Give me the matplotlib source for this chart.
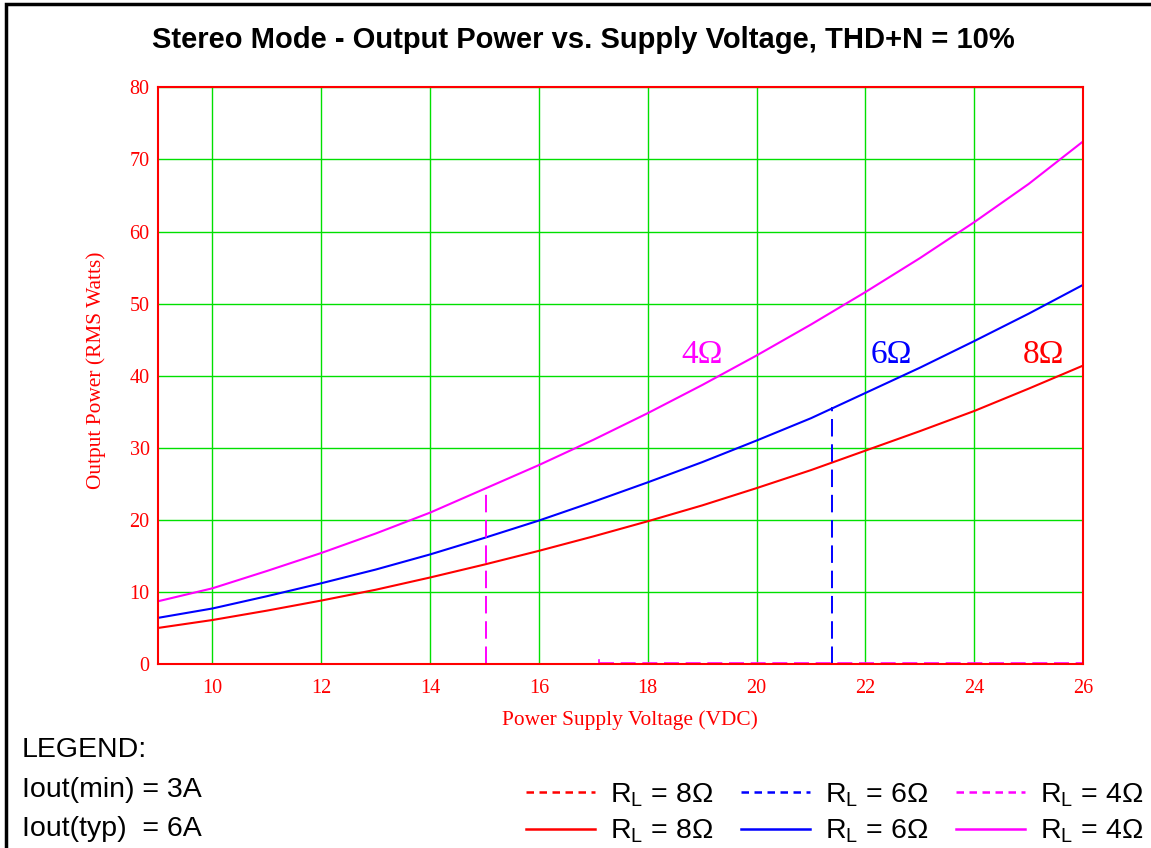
import matplotlib.pyplot as plt
from matplotlib.lines import Line2D
from matplotlib.patches import Rectangle

volts = [9, 10, 11, 12, 13, 14, 15, 16, 17, 18, 19, 20, 21, 22, 23, 24, 25, 26]
p_4ohm = [8.7, 10.5, 12.9, 15.4, 18.1, 21.0, 24.3, 27.6, 31.1, 34.8, 38.7, 42.8, 47.1, 51.6, 56.3, 61.3, 66.6, 72.5]
p_6ohm = [6.4, 7.7, 9.4, 11.2, 13.1, 15.2, 17.5, 19.9, 22.5, 25.2, 28.0, 31.0, 34.1, 37.6, 41.1, 44.8, 48.6, 52.6]
p_8ohm = [5.0, 6.1, 7.4, 8.8, 10.3, 12.0, 13.8, 15.7, 17.7, 19.8, 22.0, 24.4, 26.9, 29.6, 32.3, 35.1, 38.2, 41.4]

# current limit (Iout min) cut-off points
limit_4ohm = (15.02, 24.3)
limit_6ohm = (21.38, 35.6)
limit_zero = (17.1, 26.0)

xticks = [10, 12, 14, 16, 18, 20, 22, 24, 26]
yticks = [0, 10, 20, 30, 40, 50, 60, 70, 80]

plt.rcParams['mathtext.fontset'] = 'custom'
plt.rcParams['mathtext.rm'] = 'Liberation Sans'

RED = '#ff0000'
BLUE = '#0000ff'
MAG = '#ff00ff'
GRID = '#00e000'
serif = 'Liberation Serif'
sans = 'Liberation Sans'

fig = plt.figure(figsize=(11.51, 8.48), dpi=100)
ax = fig.add_axes([0.1373, 0.217, 0.8037, 0.680])

ax.plot(volts, p_8ohm, color=RED, lw=1.5)
ax.plot(volts, p_6ohm, color=BLUE, lw=1.5)
ax.plot(volts, p_4ohm, color=MAG, lw=1.5)

ax.plot([limit_4ohm[0]] * 2, [0, limit_4ohm[1]], color=MAG, lw=1.4, dashes=(9, 4))
ax.plot([limit_6ohm[0]] * 2, [0, limit_6ohm[1]], color=BLUE, lw=1.4, dashes=(9, 4))
ax.plot([limit_zero[0], limit_zero[1]], [0.12, 0.12], color=MAG, lw=1.2, dashes=(9, 4))
ax.plot([limit_zero[0], limit_zero[0]], [0, 0.5], color=MAG, lw=1.2)

ax.set_xlim(9, 26)
ax.set_ylim(0, 80)
ax.set_xticks(xticks)
ax.set_yticks(yticks)
ax.grid(True, color=GRID, lw=1.0)
ax.set_axisbelow(True)
for s in ax.spines.values():
    s.set_color(RED)
    s.set_linewidth(1.5)
ax.tick_params(length=0, colors=RED, labelsize=14.5)
ax.tick_params(axis='x', pad=11)
ax.tick_params(axis='y', pad=6)
for lab in ax.get_xticklabels() + ax.get_yticklabels():
    lab.set_family(serif)

ax.set_xlabel('Power Supply Voltage (VDC)', color=RED, family=serif, fontsize=15.4)
ax.set_ylabel('Output Power (RMS Watts)', color=RED, family=serif, fontsize=15.4)
ax.xaxis.set_label_coords(0.510, -0.080)
ax.yaxis.set_label_coords(-0.056, 0.51)

ax.text(19.0, 42.9, '4Ω', color=MAG, family=serif, fontsize=24, ha='center', va='center')
ax.text(22.48, 42.9, '6Ω', color=BLUE, family=serif, fontsize=24, ha='center', va='center')
ax.text(25.27, 42.9, '8Ω', color=RED, family=serif, fontsize=24, ha='center', va='center')

fig.text(0.507, 0.953, 'Stereo Mode - Output Power vs. Supply Voltage, THD+N = 10%',
         ha='center', va='center', fontsize=21, weight='bold', family=sans)

fig.text(0.019, 0.115, 'LEGEND:', fontsize=20.5, family=sans, va='center')
fig.text(0.019, 0.068, 'Iout(min) = 3A', fontsize=20.5, family=sans, va='center')
fig.text(0.019, 0.022, 'Iout(typ)  = 6A', fontsize=20.5, family=sans, va='center')

lab8 = r'$\mathregular{R_L}$ = 8Ω'
lab6 = r'$\mathregular{R_L}$ = 6Ω'
lab4 = r'$\mathregular{R_L}$ = 4Ω'
handles = [
    Line2D([], [], color=RED, lw=1.8, dashes=(3, 2.2)),
    Line2D([], [], color=RED, lw=1.8),
    Line2D([], [], color=BLUE, lw=1.8, dashes=(3, 2.2)),
    Line2D([], [], color=BLUE, lw=1.8),
    Line2D([], [], color=MAG, lw=1.8, dashes=(3, 2.2)),
    Line2D([], [], color=MAG, lw=1.8),
]
labels = [lab8, lab8, lab6, lab6, lab4, lab4]
fig.legend(handles, labels, ncol=3, loc='center left', bbox_to_anchor=(0.457, 0.041),
           frameon=False, prop={'family': sans, 'size': 20.5}, handlelength=2.42,
           columnspacing=0.98, handletextpad=0.53, labelspacing=0.3, borderpad=0,
           borderaxespad=0)

fig.patches.append(Rectangle((0.005, -0.01), 1.2, 1.005, transform=fig.transFigure,
                             fill=False, edgecolor='black', lw=2.5))

fig.savefig('out.png', dpi=100)
